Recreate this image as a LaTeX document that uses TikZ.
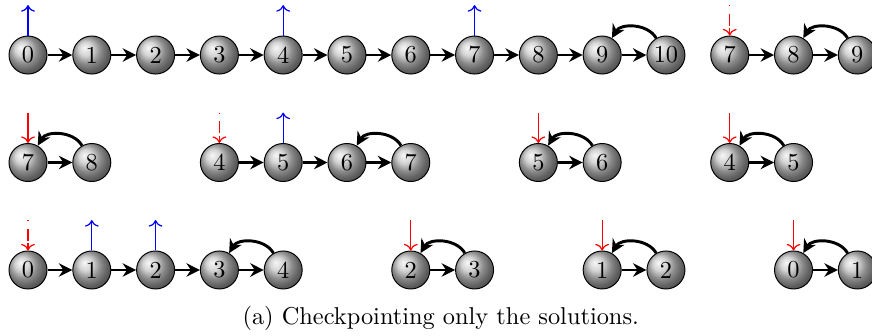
\documentclass[tikz,border=0pt]{standalone}
\usetikzlibrary{arrows.meta,shadings}

\tikzset{
  sol/.style={circle,draw,ball color=gray!45,minimum size=15.6pt,inner sep=0pt},
  succ/.style={-{Stealth[length=5.5pt,width=5.5pt,inset=1.8pt]},line width=1.2pt},
  back/.style={-{Stealth[length=5.5pt,width=5.5pt,inset=1.8pt]},line width=1.2pt,out=120,in=60},
  save/.style={->,blue,line width=0.5pt},
  load/.style={->,red,line width=0.5pt},
  lost/.style={->,red,line width=0.5pt,dash pattern=on 0.5pt off 3pt on 5pt off 1pt on 4pt off 1pt}
}

\begin{document}
\begin{tikzpicture}[x=0.92cm,y=-1.55cm]
\useasboundingbox (-0.439,-0.512) rectangle (13.23,2.605);

% first row
\foreach \n in {0,...,10} \node[sol] (a\n) at (\n,0) {\n};
\foreach \n [count=\c from 11] in {7,8,9} \node[sol] (b\n) at (\c,0) {\n};

% second row
\foreach \n [count=\c from 0] in {7,8} \node[sol] (c\n) at (\c,1) {\n};
\foreach \n [count=\c from 3] in {4,5,6,7} \node[sol] (d\n) at (\c,1) {\n};
\foreach \n [count=\c from 8] in {5,6} \node[sol] (e\n) at (\c,1) {\n};
\foreach \n [count=\c from 11] in {4,5} \node[sol] (f\n) at (\c,1) {\n};

% third row
\foreach \n in {0,...,4} \node[sol] (g\n) at (\n,2) {\n};
\foreach \n [count=\c from 6] in {2,3} \node[sol] (h\n) at (\c,2) {\n};
\foreach \n [count=\c from 9] in {1,2} \node[sol] (k\n) at (\c,2) {\n};
\foreach \n [count=\c from 12] in {0,1} \node[sol] (m\n) at (\c,2) {\n};

% forward steps
\foreach \n [remember=\n as \p (initially 0)] in {1,...,10} \draw[succ] (a\p) -- (a\n);
\draw[succ] (b7) -- (b8);
\draw[succ] (b8) -- (b9);
\draw[succ] (c7) -- (c8);
\foreach \n [remember=\n as \p (initially 4)] in {5,6,7} \draw[succ] (d\p) -- (d\n);
\draw[succ] (e5) -- (e6);
\draw[succ] (f4) -- (f5);
\foreach \n [remember=\n as \p (initially 0)] in {1,...,4} \draw[succ] (g\p) -- (g\n);
\draw[succ] (h2) -- (h3);
\draw[succ] (k1) -- (k2);
\draw[succ] (m0) -- (m1);

% backtracking
\draw[back] (a10) to (a9);
\draw[back] (b9) to (b8);
\draw[back] (c8) to (c7);
\draw[back] (d7) to (d6);
\draw[back] (e6) to (e5);
\draw[back] (f5) to (f4);
\draw[back] (g4) to (g3);
\draw[back] (h3) to (h2);
\draw[back] (k2) to (k1);
\draw[back] (m1) to (m0);

% checkpoints
\foreach \v in {a0,a4,a7,d5,g1,g2} {
  \coordinate (\v top) at ([yshift=0.72cm]\v.center);
  \draw[save] (\v) -- (\v top);
}
\foreach \v in {c7,e5,f4,h2,k1,m0} {
  \coordinate (\v top) at ([yshift=0.72cm]\v.center);
  \draw[load] (\v top) -- (\v);
}
\foreach \v in {b7,d4,g0} {
  \coordinate (\v top) at ([yshift=0.72cm]\v.center);
  \draw[lost] (\v top) -- (\v);
}

\node (cap) at (6.47,2.447) {(a) Checkpointing only the solutions.};
\end{tikzpicture}
\end{document}
